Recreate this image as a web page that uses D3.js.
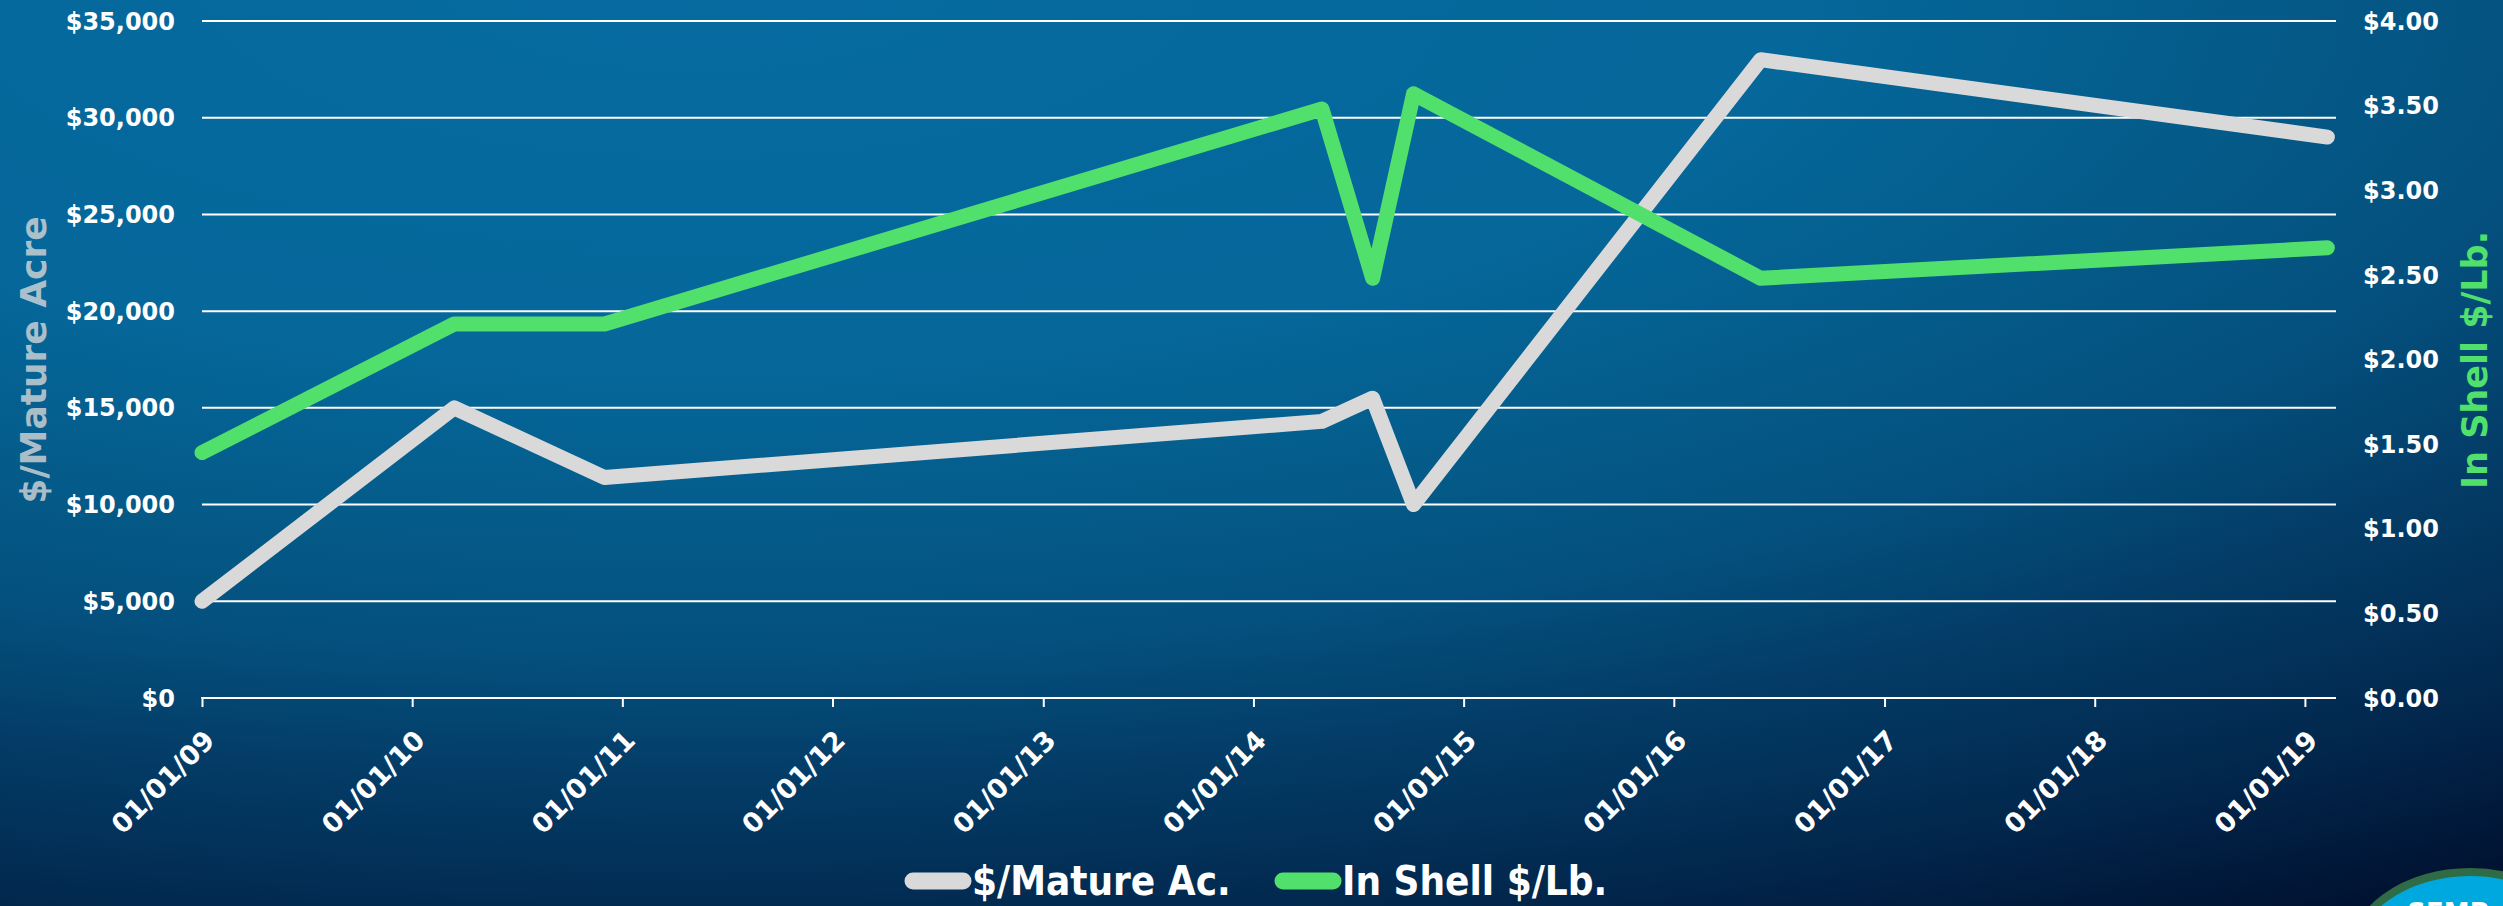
<!DOCTYPE html>
<html>
<head>
<meta charset="UTF-8">
<title>Mature acre value vs in-shell price</title>
<style>
  html, body { margin: 0; padding: 0; background: #02284e; overflow: hidden; }
  svg { display: block; }
</style>
</head>
<body>
<div id="chart"></div>
<script src="https://d3js.org/d3.v7.min.js"></script>
<script>
// ---- data ----
var dates = ["2009-01-01", "2010-03-15", "2010-12-01", "2014-04-30", "2014-07-27", "2014-10-06", "2016-05-31", "2019-02-09"];
var matureAcre = [5000, 15000, 11400, 14300, 15500, 10000, 33000, 29000];
var inShellLb = [1.45, 2.21, 2.21, 3.48, 2.48, 3.57, 2.48, 2.66];
var leftTicks = [0, 5000, 10000, 15000, 20000, 25000, 30000, 35000];
var rightTicks = [0, 0.5, 1, 1.5, 2, 2.5, 3, 3.5, 4];
var xTickLabels = ["01/01/09", "01/01/10", "01/01/11", "01/01/12", "01/01/13", "01/01/14",
                   "01/01/15", "01/01/16", "01/01/17", "01/01/18", "01/01/19"];
var seriesNames = ["$/Mature Ac.", "In Shell $/Lb."];

var width = 2503, height = 906;
var plot = { left: 202, right: 2336, top: 21, bottom: 698 };
var gray = "#d9d9d9", green = "#51e06b";
var labelFont = "'DejaVu Sans', sans-serif";
var condFont = "'DejaVu Sans Condensed', 'Liberation Sans Narrow', 'DejaVu Sans', sans-serif";

var svg = d3.select("#chart").append("svg")
  .attr("width", width).attr("height", height);

// background
var defs = svg.append("defs");
var bg = defs.append("radialGradient")
  .attr("id", "bg")
  .attr("gradientUnits", "userSpaceOnUse")
  .attr("cx", 0).attr("cy", 0).attr("r", 1)
  .attr("gradientTransform", "translate(700,-20) scale(3170,1120)");
[[0, "#066ba0"], [0.35, "#05679a"], [0.5, "#045a88"], [0.6, "#04507e"],
 [0.72, "#033b65"], [0.85, "#02284e"], [1, "#000e2c"]].forEach(function(s) {
  bg.append("stop").attr("offset", s[0]).attr("stop-color", s[1]);
});
svg.append("rect").attr("width", width).attr("height", height).attr("fill", "url(#bg)");

var parse = d3.timeParse("%Y-%m-%d");
var x = d3.scaleTime()
  .domain([parse("2009-01-01"), parse("2019-02-24")])
  .range([plot.left, plot.right]);
var yL = d3.scaleLinear().domain([0, 35000]).range([plot.bottom, plot.top]);
var yR = d3.scaleLinear().domain([0, 4]).range([plot.bottom, plot.top]);

// gridlines
svg.append("g").selectAll("line")
  .data(leftTicks.slice(1))
  .join("line")
  .attr("x1", plot.left).attr("x2", plot.right)
  .attr("y1", function(d) { return yL(d); })
  .attr("y2", function(d) { return yL(d); })
  .attr("stroke", "#ffffff").attr("stroke-width", 2);

// left axis labels
var fmtL = d3.format("$,");
svg.append("g").selectAll("text")
  .data(leftTicks)
  .join("text")
  .attr("x", 175)
  .attr("y", function(d) { return yL(d); })
  .attr("dy", "0.36em")
  .attr("text-anchor", "end")
  .attr("font-family", labelFont).attr("font-weight", "bold").attr("font-size", 24)
  .attr("fill", "#ffffff")
  .text(function(d) { return fmtL(d); });

// right axis labels
var fmtR = d3.format("$.2f");
svg.append("g").selectAll("text")
  .data(rightTicks)
  .join("text")
  .attr("x", 2363)
  .attr("y", function(d) { return yR(d); })
  .attr("dy", "0.36em")
  .attr("text-anchor", "start")
  .attr("font-family", labelFont).attr("font-weight", "bold").attr("font-size", 24)
  .attr("fill", "#ffffff")
  .text(function(d) { return fmtR(d); });

// x axis
var tickDates = xTickLabels.map(function(s) { return d3.timeParse("%m/%d/%y")(s); });
var xAxis = d3.axisBottom(x)
  .tickValues(tickDates)
  .tickSize(9)
  .tickFormat(d3.timeFormat("%m/%d/%y"));
var gx = svg.append("g")
  .attr("transform", "translate(0," + plot.bottom + ")")
  .call(xAxis);
gx.select(".domain").attr("stroke", "#ffffff").attr("stroke-width", 2)
  .attr("d", "M" + plot.left + ",0.5V0H" + plot.right);
gx.selectAll(".tick line").attr("stroke", "#ffffff").attr("stroke-width", 2);
gx.selectAll(".tick text")
  .attr("font-family", labelFont).attr("font-weight", "bold").attr("font-size", 27)
  .attr("fill", "#ffffff")
  .attr("text-anchor", "end")
  .attr("y", 0).attr("dy", "0.36em")
  .attr("transform", "translate(7,37) rotate(-45)");

// lines
var rows = dates.map(function(d, i) {
  return { date: parse(d), acre: matureAcre[i], lb: inShellLb[i] };
});
var lineL = d3.line().x(function(d) { return x(d.date); }).y(function(d) { return yL(d.acre); });
var lineR = d3.line().x(function(d) { return x(d.date); }).y(function(d) { return yR(d.lb); });

svg.append("path").datum(rows)
  .attr("d", lineL)
  .attr("fill", "none").attr("stroke", gray).attr("stroke-width", 15)
  .attr("stroke-linejoin", "round").attr("stroke-linecap", "round");
svg.append("path").datum(rows)
  .attr("d", lineR)
  .attr("fill", "none").attr("stroke", green).attr("stroke-width", 15)
  .attr("stroke-linejoin", "round").attr("stroke-linecap", "round");

// axis titles
svg.append("text")
  .attr("transform", "translate(46,360) rotate(-90)")
  .attr("text-anchor", "middle")
  .attr("font-family", labelFont).attr("font-weight", "bold").attr("font-size", 36)
  .attr("fill", "#d9d9d9").attr("fill-opacity", 0.78)
  .text("$/Mature Acre");

svg.append("text")
  .attr("transform", "translate(2487,360) rotate(-90)")
  .attr("text-anchor", "middle")
  .attr("font-family", labelFont).attr("font-weight", "bold").attr("font-size", 35)
  .attr("fill", green)
  .text("In Shell $/Lb.");

// legend
var legend = [
  { name: seriesNames[0], color: gray, x: 913 },
  { name: seriesNames[1], color: green, x: 1283 }
];
var lg = svg.append("g").selectAll("g").data(legend).join("g")
  .attr("transform", function(d) { return "translate(" + d.x + ",881)"; });
lg.append("line")
  .attr("x1", 0).attr("x2", 50)
  .attr("stroke", function(d) { return d.color; })
  .attr("stroke-width", 17).attr("stroke-linecap", "round");
lg.append("text")
  .attr("x", 59).attr("y", 14)
  .attr("font-family", condFont).attr("font-weight", "bold").attr("font-size", 40)
  .attr("fill", "#ffffff")
  .text(function(d) { return d.name; });

// corner badge (cut off by the bottom edge, as in the source slide)
var badge = svg.append("g");
badge.append("ellipse")
  .attr("cx", 2470).attr("cy", 960).attr("rx", 120).attr("ry", 88)
  .attr("fill", "#00a8e0").attr("stroke", "#2f6b45").attr("stroke-width", 8);
badge.append("text")
  .attr("x", 2448).attr("y", 922)
  .attr("text-anchor", "middle")
  .attr("font-family", labelFont).attr("font-weight", "bold").attr("font-size", 26)
  .attr("fill", "#ffffff")
  .text("SEMP");
</script>
</body>
</html>
